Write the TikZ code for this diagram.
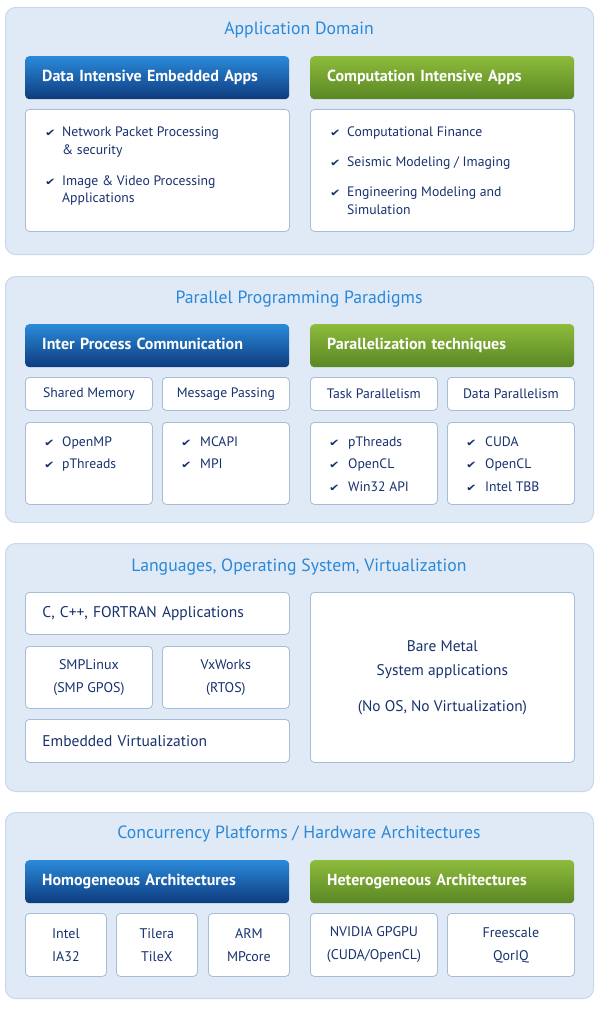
\documentclass[tikz,border=0pt]{standalone}
\usepackage{fontspec}
\setmainfont{PT Sans}
\newfontfamily\dejavu{DejaVu Sans}
\newcommand{\myck}{\scalebox{1.2}[0.95]{✔}}
\definecolor{panelbg}{HTML}{DFEAF6}
\definecolor{panelline}{HTML}{C8D8EA}
\definecolor{boxline}{HTML}{A6BDD8}
\definecolor{navy}{HTML}{18326F}
\definecolor{titleblue}{HTML}{2A88D8}
\definecolor{btop}{HTML}{2A8ADA}
\definecolor{bbot}{HTML}{0E3B7E}
\definecolor{gtop}{HTML}{8DBB3B}
\definecolor{gbot}{HTML}{5A8724}
\tikzset{
  panel/.style={draw=panelline, fill=panelbg, rounded corners=10pt, line width=1pt, anchor=north west, inner sep=0pt},
  ptitle/.style={text=titleblue, font=\fontsize{17.7}{20}\selectfont, anchor=base, inner sep=0pt},
  hdr/.style={rounded corners=4pt, anchor=north west, text=white, font=\bfseries\fontsize{16}{19}\selectfont,
    align=left, text width=230pt, inner xsep=17pt, inner ysep=0pt, minimum height=43pt, text height=11.5pt, text depth=3pt},
  hblue/.style={hdr, top color=btop, bottom color=bbot},
  hgreen/.style={hdr, top color=gtop, bottom color=gbot},
  box/.style={draw=boxline, fill=white, rounded corners=4pt, line width=0.8pt, anchor=north west, inner sep=0pt,
    text=navy, font=\fontsize{14}{23}\selectfont, align=center},
  sbox/.style={box, font=\fontsize{13.7}{16}\selectfont},
  lbox/.style={box, align=left, inner xsep=17pt, text width=230pt, font=\fontsize{15.5}{18}\selectfont},
  itm/.style={text=navy, font=\fontsize{13.7}{16}\selectfont, anchor=base west, inner sep=0pt},
  ck/.style={text=navy, font=\dejavu\fontsize{10.5}{12}\selectfont, anchor=base west, inner sep=0pt},
}
\begin{document}
\begin{tikzpicture}[x=1pt,y=-1pt]
\useasboundingbox (0,0) rectangle (603,1014);
% ---------- Panel 1
\node[panel, minimum width=588pt, minimum height=247pt] (p1) at (5,7) {};
\node[ptitle] (t1) at (299,35) {Application Domain};
\node[hblue] (h1) at (25,56) {Data Intensive Embedded Apps};
\node[hgreen] (h2) at (310,56) {Computation Intensive Apps};
\node[box, minimum width=264pt, minimum height=122pt] (l1) at (25,109) {};
\node[box, minimum width=264pt, minimum height=122pt] (l2) at (310,109) {};
\node[ck] (c11) at (45,136) {\myck};
\node[itm] (i11) at (62,136) {Network Packet Processing};
\node[itm] (i11b) at (62,154) {\& security};
\node[ck] (c12) at (45,185) {\myck};
\node[itm] (i12) at (62,185) {Image \& Video Processing};
\node[itm] (i12b) at (62,202) {Applications};
\node[ck] (c21) at (330,136) {\myck};
\node[itm] (i21) at (347,136) {Computational Finance};
\node[ck] (c22) at (330,166) {\myck};
\node[itm] (i22) at (347,166) {Seismic Modeling / Imaging};
\node[ck] (c23) at (330,196) {\myck};
\node[itm] (i23) at (347,196) {Engineering Modeling and};
\node[itm] (i23b) at (347,214) {Simulation};
% ---------- Panel 2
\node[panel, minimum width=588pt, minimum height=246pt] (p2) at (5,276) {};
\node[ptitle] (t2) at (299,303) {Parallel Programming Paradigms};
\node[hblue] (h3) at (25,324) {Inter Process Communication};
\node[hgreen] (h4) at (310,324) {Parallelization techniques};
\node[sbox, minimum width=127pt, minimum height=33pt] (sm) at (25,377) {Shared Memory};
\node[sbox, minimum width=127pt, minimum height=33pt] (mp) at (162,377) {Message Passing};
\node[sbox, minimum width=127pt, minimum height=33pt] (tp) at (310,377) {Task Parallelism};
\node[sbox, minimum width=127pt, minimum height=33pt] (dp) at (447,377) {Data Parallelism};
\node[box, minimum width=127pt, minimum height=82pt] (sml) at (25,422) {};
\node[box, minimum width=127pt, minimum height=82pt] (mpl) at (162,422) {};
\node[box, minimum width=127pt, minimum height=82pt] (tpl) at (310,422) {};
\node[box, minimum width=127pt, minimum height=82pt] (dpl) at (447,422) {};
\node[ck] (c31) at (44,446) {\myck};
\node[itm] (i31) at (62,446) {OpenMP};
\node[ck] (c32) at (44,468) {\myck};
\node[itm] (i32) at (62,468) {pThreads};
\node[ck] (c41) at (181,446) {\myck};
\node[itm] (i41) at (200,446) {MCAPI};
\node[ck] (c42) at (181,468) {\myck};
\node[itm] (i42) at (200,468) {MPI};
\node[ck] (c51) at (329,446) {\myck};
\node[itm] (i51) at (348,446) {pThreads};
\node[ck] (c52) at (329,468) {\myck};
\node[itm] (i52) at (348,468) {OpenCL};
\node[ck] (c53) at (329,491) {\myck};
\node[itm] (i53) at (348,491) {Win32 API};
\node[ck] (c61) at (466,446) {\myck};
\node[itm] (i61) at (485,446) {CUDA};
\node[ck] (c62) at (466,468) {\myck};
\node[itm] (i62) at (485,468) {OpenCL};
\node[ck] (c63) at (466,491) {\myck};
\node[itm] (i63) at (485,491) {Intel TBB};
% ---------- Panel 3
\node[panel, minimum width=588pt, minimum height=248pt] (p3) at (5,543) {};
\node[ptitle] (t3) at (299,571) {Languages, Operating System, Virtualization};
\node[lbox, minimum height=42pt] (cc) at (25,592) {C, C++, FORTRAN Applications};
\node[box, minimum width=127pt, minimum height=62pt] (smp) at (25,646) {SMPLinux\\(SMP GPOS)};
\node[box, minimum width=127pt, minimum height=62pt] (vx) at (162,646) {VxWorks\\(RTOS)};
\node[lbox, minimum height=43pt] (ev) at (25,719) {Embedded Virtualization};
\node[box, minimum width=264pt, minimum height=170pt, font=\fontsize{15.4}{24}\selectfont] (bm) at (310,592) {Bare Metal\\System applications\\[12pt](No OS, No Virtualization)};
% ---------- Panel 4
\node[panel, minimum width=588pt, minimum height=186pt] (p4) at (5,812) {};
\node[ptitle] (t4) at (299,838) {Concurrency Platforms / Hardware Architectures};
\node[hblue] (h5) at (25,860) {Homogeneous Architectures};
\node[hgreen] (h6) at (310,860) {Heterogeneous Architectures};
\node[box, minimum width=81pt, minimum height=63pt] (intel) at (25,913) {Intel\\IA32};
\node[box, minimum width=81pt, minimum height=63pt] (tilera) at (116,913) {Tilera\\TileX};
\node[box, minimum width=81pt, minimum height=63pt] (arm) at (208,913) {ARM\\MPcore};
\node[box, minimum width=127pt, minimum height=63pt] (nv) at (310,913) {NVIDIA GPGPU\\(CUDA/OpenCL)};
\node[box, minimum width=127pt, minimum height=63pt] (fs) at (447,913) {Freescale\\QorIQ};
\end{tikzpicture}
\end{document}
